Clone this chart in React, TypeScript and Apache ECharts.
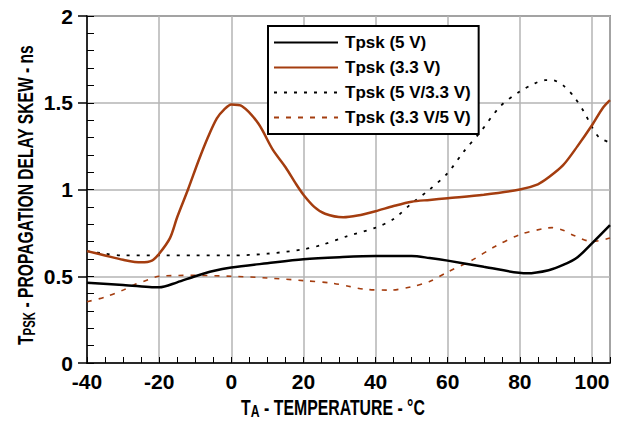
import React, { useEffect, useRef } from "react";
import * as echarts from "echarts";

const FONT = "'Liberation Sans', Arial, sans-serif";
const BROWN = "#a43d0f";

const seriesNames = ["Tpsk (5 V)", "Tpsk (3.3 V)", "Tpsk (5 V/3.3 V)", "Tpsk (3.3 V/5 V)"];
const xTitle = "T{sub|A} - TEMPERATURE - °C";
const yTitle = "T{sub|PSK} - PROPAGATION DELAY SKEW - ns";

const t5V = [-40, -30, -22, -20, -15, -10, -5, 0, 10, 20, 30, 40, 50, 55, 60, 70, 82, 88, 92, 96, 100, 105];
const v5V = [0.463, 0.45, 0.437, 0.436, 0.465, 0.5, 0.53, 0.55, 0.575, 0.598, 0.61, 0.617, 0.617, 0.605, 0.59, 0.555, 0.517, 0.535, 0.565, 0.61, 0.69, 0.795];

const t33V = [-40, -35, -30, -25, -22, -20, -17, -15, -12, -9, -6.5, -4, -2, 0, 3, 7.5, 11.5, 15, 18, 20, 23, 26, 31, 35, 40, 45, 50, 55, 60, 70, 80, 85, 88, 92, 96, 100, 103, 105];
const v33V = [0.645, 0.62, 0.595, 0.58, 0.59, 0.63, 0.72, 0.84, 1.0, 1.17, 1.3, 1.41, 1.46, 1.49, 1.48, 1.38, 1.23, 1.13, 1.03, 0.97, 0.9, 0.86, 0.84, 0.85, 0.875, 0.905, 0.93, 0.94, 0.95, 0.97, 1.0, 1.03, 1.07, 1.14, 1.25, 1.37, 1.47, 1.515];

const t5V33 = [-40, -35, -30, -20, -10, 0, 10, 20, 25, 32, 40, 45, 50, 55, 60, 64.5, 69, 74.6, 80, 84, 87, 89, 92, 95, 98, 100, 102, 105];
const v5V33 = [0.645, 0.63, 0.62, 0.62, 0.62, 0.62, 0.63, 0.655, 0.68, 0.73, 0.78, 0.83, 0.92, 1.0, 1.095, 1.22, 1.33, 1.48, 1.565, 1.61, 1.63, 1.63, 1.6, 1.535, 1.44, 1.36, 1.3, 1.27];

const t33V5 = [-40, -35, -30, -27, -23, -20, -10, 0, 10, 20, 28, 33, 37, 44, 50, 55, 60, 66.5, 73, 80, 86.7, 89, 92, 95, 100, 105];
const v33V5 = [0.353, 0.38, 0.42, 0.45, 0.48, 0.5, 0.505, 0.5, 0.49, 0.475, 0.46, 0.44, 0.425, 0.42, 0.44, 0.47, 0.525, 0.59, 0.67, 0.74, 0.775, 0.78, 0.765, 0.735, 0.7, 0.72];

const pairs = (xs: number[], ys: number[]) => xs.map((x, i) => [x, ys[i]]);

export default function App() {
  const ref = useRef<HTMLDivElement>(null);
  useEffect(() => {
    const chart = echarts.init(ref.current!, null, { renderer: "svg" });
    const labelStyle = { fontFamily: FONT, fontWeight: "bold" as const, fontSize: 21, color: "#000" };
    const titleFont = { fontFamily: FONT, fontWeight: "bold" as const, fontSize: 22, fill: "#000" };
    chart.setOption({
      animation: false,
      backgroundColor: "#fff",
      grid: {
        left: 87, right: 16, top: 16, bottom: 58,
        containLabel: false, outerBoundsMode: "none",
        show: true, borderColor: "#444", borderWidth: 1.5, backgroundColor: "transparent",
      },
      legend: {
        orient: "vertical",
        left: 268,
        top: 26,
        itemWidth: 64,
        itemHeight: 14,
        itemGap: 8,
        padding: [8, 8, 8, 5],
        borderColor: "#000",
        borderWidth: 2,
        backgroundColor: "#fff",
        itemStyle: { opacity: 0 },
        textStyle: { fontFamily: FONT, fontWeight: "bold", fontSize: 17, color: "#000", lineHeight: 16, padding: [0, 0, 0, 2] },
        data: seriesNames,
      },
      graphic: [
        {
          type: "text",
          x: 333,
          y: 408,
          scaleX: 0.72,
          style: {
            text: xTitle,
            ...titleFont,
            align: "center",
            verticalAlign: "middle",
            rich: { sub: { fontFamily: FONT, fontWeight: "bold", fontSize: 17, fill: "#000", padding: [0, 0, -7, 0] } },
          },
        },
        {
          type: "text",
          x: 26,
          y: 195,
          rotation: Math.PI / 2,
          scaleX: 0.71,
          style: {
            text: yTitle,
            ...titleFont,
            align: "center",
            verticalAlign: "middle",
            rich: { sub: { fontFamily: FONT, fontWeight: "bold", fontSize: 16, fill: "#000", padding: [0, 0, -6, 0] } },
          },
        },
      ],
      xAxis: {
        type: "value",
        min: -40,
        max: 105,
        interval: 20,
        axisLine: { onZero: false, lineStyle: { color: "#000", width: 1.5 } },
        axisTick: { inside: true, length: 6, lineStyle: { color: "#000" } },
        minorTick: { show: true, splitNumber: 4, length: 6, lineStyle: { color: "#000" } },
        splitLine: { show: true, lineStyle: { color: "#b5b5b5", width: 1.5 } },
        axisLabel: { ...labelStyle, margin: 8, showMaxLabel: false },
      },
      yAxis: [
        {
          type: "value",
          min: 0,
          max: 2,
          interval: 0.5,
          axisLine: { show: true, onZero: false, lineStyle: { color: "#000", width: 1.5 } },
          axisTick: { show: true, inside: false, length: 9, lineStyle: { color: "#000", width: 1.5 } },
          splitLine: { show: true, lineStyle: { color: "#b5b5b5", width: 1.5 } },
          axisLabel: { ...labelStyle, margin: 14 },
        },
        {
          type: "value",
          min: 0,
          max: 2,
          interval: 0.1,
          position: "left",
          axisLine: { show: false, onZero: false },
          axisTick: { show: true, inside: true, length: 7, lineStyle: { color: "#000" } },
          splitLine: { show: false },
          axisLabel: { show: false },
        },
      ],
      series: [
        { name: seriesNames[0], type: "line", smooth: 0.3, symbol: "none", data: pairs(t5V, v5V), lineStyle: { color: "#000", width: 2.5 }, itemStyle: { color: "#000" }, z: 4 },
        { name: seriesNames[1], type: "line", smooth: 0.3, symbol: "none", data: pairs(t33V, v33V), lineStyle: { color: BROWN, width: 2.5 }, itemStyle: { color: BROWN }, z: 4 },
        { name: seriesNames[2], type: "line", smooth: 0.3, symbol: "none", data: pairs(t5V33, v5V33), lineStyle: { color: "#000", width: 1.8, type: [3, 7] }, itemStyle: { color: "#000" }, z: 3 },
        { name: seriesNames[3], type: "line", smooth: 0.3, symbol: "none", data: pairs(t33V5, v33V5), lineStyle: { color: BROWN, width: 1.6, type: [5, 7] }, itemStyle: { color: BROWN }, z: 3 },
      ],
    });
    return () => chart.dispose();
  }, []);
  return <div ref={ref} style={{ position: "fixed", left: 0, top: 0, width: 626, height: 421 }} />;
}
